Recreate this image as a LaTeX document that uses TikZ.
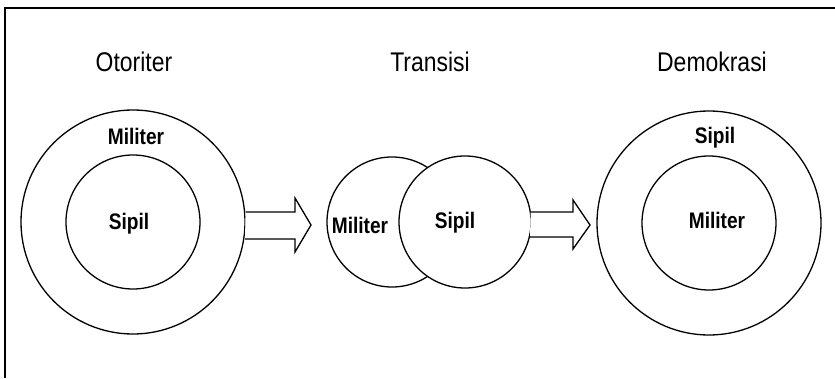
\documentclass[tikz,border=0pt]{standalone}
\usepackage{fontspec}
\setmainfont{Liberation Sans}
\newfontfamily\narrowfont[FakeStretch=0.85]{Liberation Sans}
\begin{document}
\begin{tikzpicture}[x=1pt,y=1pt,
  ring/.style={circle,draw,line width=1.3pt,fill=white,inner sep=0pt},
  title/.style={font=\narrowfont\fontsize{27}{31}\selectfont,inner sep=0pt},
  label/.style={font=\narrowfont\bfseries\fontsize{22.5}{26}\selectfont,inner sep=0pt},
  blockarrow/.style={draw,line width=1.3pt,fill=white,line join=miter}]
\useasboundingbox (0,0) rectangle (835,378);
% open frame: top and left edges only
\coordinate (ftl) at (5,370);
\coordinate (ftr) at (835,370);
\coordinate (fbl) at (5,0);
\draw[line width=1.4pt] (ftr) -- (ftl) -- (fbl);

% titles
\node[title] (t1) at (134,316) {Otoriter};
\node[title] (t2) at (430,316) {Transisi};
\node[title] (t3) at (712,316) {Demokrasi};

% authoritarian: military ring around civilians
\node[ring,minimum size=224] (o1) at (133,156) {};
\node[ring,minimum size=134] (i1) at (133,156) {};
\node[label] (l1a) at (136,242) {Militer};
\node[label] (l1b) at (129,154) {Sipil};

% transition: two overlapping circles
\node[ring,minimum size=130] (m2) at (392,156) {};
\node[ring,minimum size=132] (s2) at (465,156) {};
\node[label] (l2a) at (360,153) {Militer};
\node[label] (l2b) at (455,155) {Sipil};

% democracy: civilian ring around the military
\node[ring,minimum size=224] (o3) at (709,155) {};
\node[ring,minimum size=134] (i3) at (709,155) {};
\node[label] (l3a) at (715,240) {Sipil};
\node[label] (l3b) at (717,158) {Militer};

% block arrows between stages
\draw[blockarrow] (o1.east) ++(0,10) coordinate (a1s)
  -- (295,166) -- (295,180) -- (311,153) -- (295,126) -- (295,139) -- (245,139);
\draw[blockarrow] (s2.east) ++(-1,10) coordinate (a2s)
  -- (573,166) -- (573,178) -- (590,153) -- (573,129) -- (573,141) -- (530,141);
\end{tikzpicture}
\end{document}
